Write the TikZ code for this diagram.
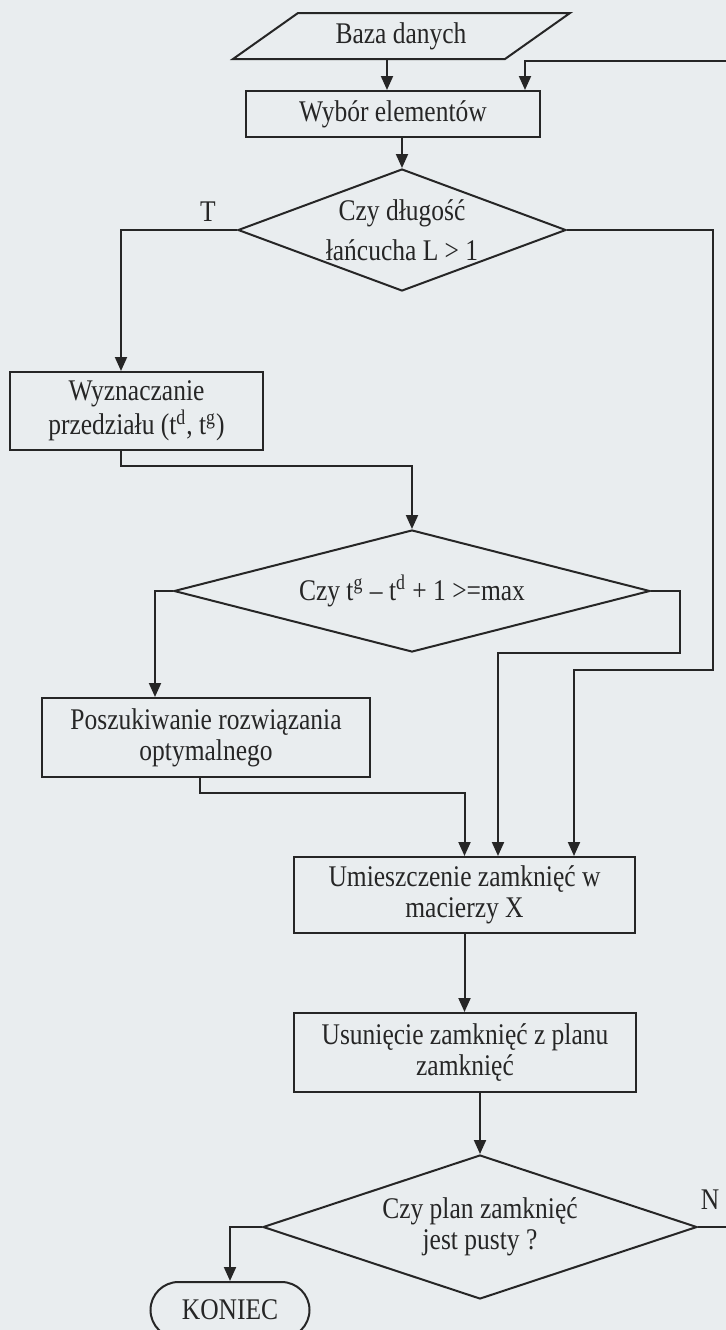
\documentclass[tikz,border=0pt]{standalone}
\usepackage{fontspec}
\setmainfont{Liberation Serif}[FakeStretch=0.85]
\usetikzlibrary{shapes.geometric,shapes.misc,arrows.meta}
\definecolor{bg}{RGB}{233,237,239}
\definecolor{ink}{RGB}{38,38,38}
\begin{document}
\begin{tikzpicture}[x=0.5pt,y=-0.5pt,
  every node/.style={font=\fontsize{15pt}{15.5pt}\selectfont, text=ink},
  box/.style={draw=ink, line width=1pt, rectangle, inner sep=0pt, align=center},
  dec/.style={draw=ink, line width=1pt, diamond, inner sep=0pt, align=center},
  conn/.style={draw=ink, line width=1pt},
  arr/.style={conn, -{Triangle[length=7pt,width=6pt]}},
]
\useasboundingbox (0,0) rectangle (726,1330);
\clip (0,0) rectangle (726,1330);
\fill[bg] (0,0) rectangle (726,1330);

% nodes
\node[minimum width=110pt, minimum height=23pt, inner sep=0pt] (baza) at (401,36) {Baza danych};
\draw[conn, shift={(baza.center)}] (-103,-23) -- (169,-23) -- (104,23) -- (-168,23) -- cycle;
\node[box, minimum width=147pt, minimum height=23pt] (wybor) at (393,114) {Wybór elementów};
\node[dec, minimum width=164pt, minimum height=61pt, shape aspect=2.69,
      font=\fontsize{15pt}{20pt}\selectfont] (d1) at (402,230) {Czy długość\\łańcucha L > 1};
\node[box, minimum width=126.5pt, minimum height=39pt] (wyzn) at (136.5,411) {Wyznaczanie\\przedziału (t\textsuperscript{d}, t\textsuperscript{g})};
\node[dec, minimum width=238pt, minimum height=61pt, shape aspect=3.9] (d2) at (412,591) {Czy t\textsuperscript{g} – t\textsuperscript{d} + 1 >=max};
\node[box, minimum width=164pt, minimum height=39.5pt] (posz) at (206,737.5) {Poszukiwanie rozwiązania\\optymalnego};
\node[box, minimum width=170.5pt, minimum height=38pt] (umi) at (464.5,895) {Umieszczenie zamknięć w\\macierzy X};
\node[box, minimum width=171pt, minimum height=39.5pt] (usu) at (465,1052.5) {Usunięcie zamknięć z planu\\zamknięć};
\node[dec, minimum width=217pt, minimum height=72pt, shape aspect=3] (d3) at (480,1227) {Czy plan zamknięć\\jest pusty ?};
\node[rounded rectangle, draw=ink, line width=1pt, minimum width=79.5pt, minimum height=28pt, inner sep=0pt] (kon) at (230,1310) {KONIEC};

\node (tlab) at (208,212) {T};
\node (nlab) at (710,1200) {N};

% helper coordinates
\coordinate (loopTop) at (750,61);
\coordinate (loopIn) at (525,61);
\coordinate (r1) at (713,670);
\coordinate (r2) at (680,653);
\coordinate (j1) at (121,466);
\coordinate (j2) at (200,793);

% connectors
\draw[arr] ([xshift=-7pt]baza.south) -- ([xshift=-7pt]baza.south |- wybor.north);
\draw[arr] (d3.east) -| (loopTop) -- (loopIn) -- (loopIn |- wybor.north);
\draw[arr] (d1.north |- wybor.south) -- (d1.north);
\draw[arr] (d1.west) -| ([xshift=-7.75pt]wyzn.north);
\draw[arr] (d1.east) -| (r1) -| ([xshift=54.75pt]umi.north);
\draw[arr] ([xshift=-7.75pt]wyzn.south) -- (j1) -| (d2.north);
\draw[arr] (d2.west) -| ([xshift=-25.5pt]posz.north);
\draw[arr] (d2.east) -| (r2) -| ([xshift=16.75pt]umi.north);
\draw[arr] ([xshift=-3pt]posz.south) -- (j2) -| (umi.north);
\draw[arr] (umi.south) -- (umi.south |- usu.north);
\draw[arr] (d3.north |- usu.south) -- (d3.north);
\draw[arr] (d3.west) -| (kon.north);
\end{tikzpicture}
\end{document}
